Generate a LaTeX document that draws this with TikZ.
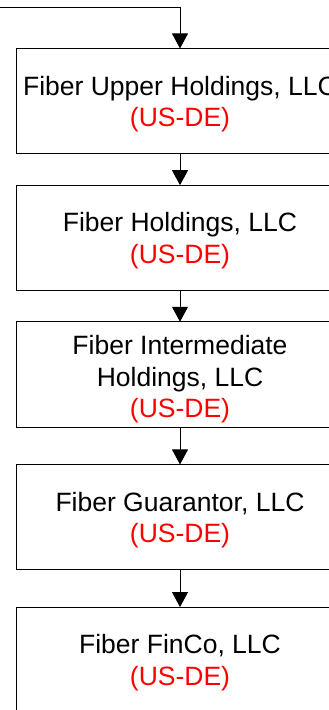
\documentclass[tikz,border=0pt]{standalone}
\usepackage{fontspec}
\setmainfont{Liberation Sans}
\usetikzlibrary{arrows.meta}

\begin{document}
\begin{tikzpicture}[x=1pt, y=-1pt,
  entity/.style={draw=black, line width=1pt, fill=white,
    minimum width=328pt, minimum height=105.5pt,
    inner sep=0pt, outer sep=0pt, align=center,
    font=\fontsize{26.5pt}{31.5pt}\selectfont},
  link/.style={draw=black, line width=1pt,
    -{Triangle[length=15pt, width=16pt]}}]

\useasboundingbox (0,0) rectangle (329,710);

% ownership chain, top to bottom
\node[entity] (upper) at (180,101.2)
  {\rule{0pt}{25pt}Fiber Upper Holdings, LLC\\ \textcolor{red}{(US-DE)}};
\node[entity] (hold) at (180,237.9)
  {\rule{0pt}{25pt}Fiber Holdings, LLC\\ \textcolor{red}{(US-DE)}};
\node[entity] (inter) at (180,374.5)
  {\rule{0pt}{28.5pt}Fiber Intermediate\\ Holdings, LLC\\ \textcolor{red}{(US-DE)}};
\node[entity] (guar) at (180,517.2)
  {\rule{0pt}{25pt}Fiber Guarantor, LLC\\ \textcolor{red}{(US-DE)}};
\node[entity] (finco) at (180,659.8)
  {\rule{0pt}{25pt}Fiber FinCo, LLC\\ \textcolor{red}{(US-DE)}};

% feed from the parent entity, off to the left
\coordinate (feed) at (-5,7.5);
\draw[link] (feed) -| (upper.north);

\draw[link] (upper) -- (hold);
\draw[link] (hold) -- (inter);
\draw[link] (inter) -- (guar);
\draw[link] (guar) -- (finco);
\end{tikzpicture}
\end{document}
